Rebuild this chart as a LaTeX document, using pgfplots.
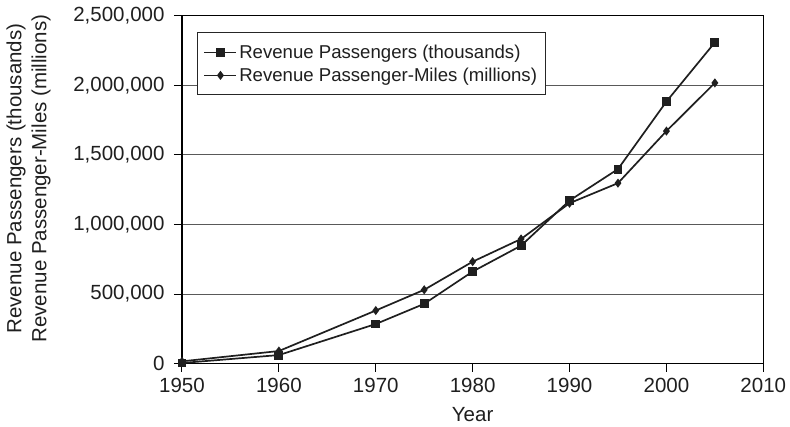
\documentclass[border=0pt]{standalone}
\usepackage{pgfplots}
\pgfplotsset{compat=1.18}
\usepackage{fontspec}
\setmainfont{Liberation Sans}

% Revenue passengers (thousands)
\pgfplotstableread{
year value
1950 5000
1960 62000
1970 285000
1975 430000
1980 662000
1985 848000
1990 1172000
1995 1398000
2000 1883000
2005 2308000
}\passengers

% Revenue passenger-miles (millions)
\pgfplotstableread{
year value
1950 17000
1960 91000
1970 382000
1975 531000
1980 733000
1985 896000
1990 1153000
1995 1297000
2000 1671000
2005 2017000
}\passengermiles

\begin{document}
\begin{tikzpicture}
\useasboundingbox (-182pt,-63.3pt) rectangle (608pt,363.7pt);
\begin{axis}[
  at={(0pt,0pt)}, anchor=south west,
  scale only axis,
  width=581.3pt, height=348pt,
  xmin=1950, xmax=2010,
  ymin=0, ymax=2500000,
  xtick={1950,1960,...,2010},
  ytick={0,500000,...,2500000},
  scaled y ticks=false,
  xtick pos=bottom, ytick pos=left,
  tick align=outside,
  major tick length=8pt,
  every tick/.style={black, line width=1pt},
  axis line style={black, line width=1.2pt},
  ymajorgrids,
  major grid style={black!65, line width=1pt},
  /pgf/number format/assume math mode=true,
  tick label style={font=\fontsize{20.5}{24}\selectfont, text=black!88},
  xticklabel style={/pgf/number format/1000 sep={}, yshift=-3pt},
  yticklabel style={/pgf/number format/.cd, fixed, 1000 sep={,}, /tikz/xshift=-6pt},
  xlabel={Year},
  xlabel style={font=\fontsize{20.5}{24}\selectfont, text=black!88,
    at={(axis description cs:0.5,-0.146)}, anchor=center},
  ylabel={Revenue Passengers (thousands)\\Revenue Passenger-Miles (millions)},
  ylabel style={font=\fontsize{20.5}{25}\selectfont, text=black!88, align=center,
    at={(axis description cs:-0.264,0.532)}, anchor=center, rotate=0},
  legend style={at={(axis description cs:0.026,0.952)}, anchor=north west,
    font=\fontsize{18.6}{22}\selectfont, text=black!88,
    draw=black!85, line width=1pt, inner xsep=6pt, inner ysep=10pt,
    row sep=4pt, cells={anchor=west}},
  legend cell align=left,
  legend image code/.code={%
    \draw[mark repeat=2, mark phase=2]
      plot coordinates {(0pt,0pt) (16pt,0pt) (32pt,0pt)};},
]
\addplot[black!88, line width=1.7pt, mark=square*, mark size=3.6pt,
  mark options={solid}] table[x=year, y=value] {\passengers};
\addlegendentry{Revenue Passengers (thousands)}
\addplot[black!88, line width=1.7pt, mark=diamond*, mark size=3.2pt,
  mark options={solid}] table[x=year, y=value] {\passengermiles};
\addlegendentry{Revenue Passenger-Miles (millions)}
\end{axis}
\end{tikzpicture}
\end{document}
